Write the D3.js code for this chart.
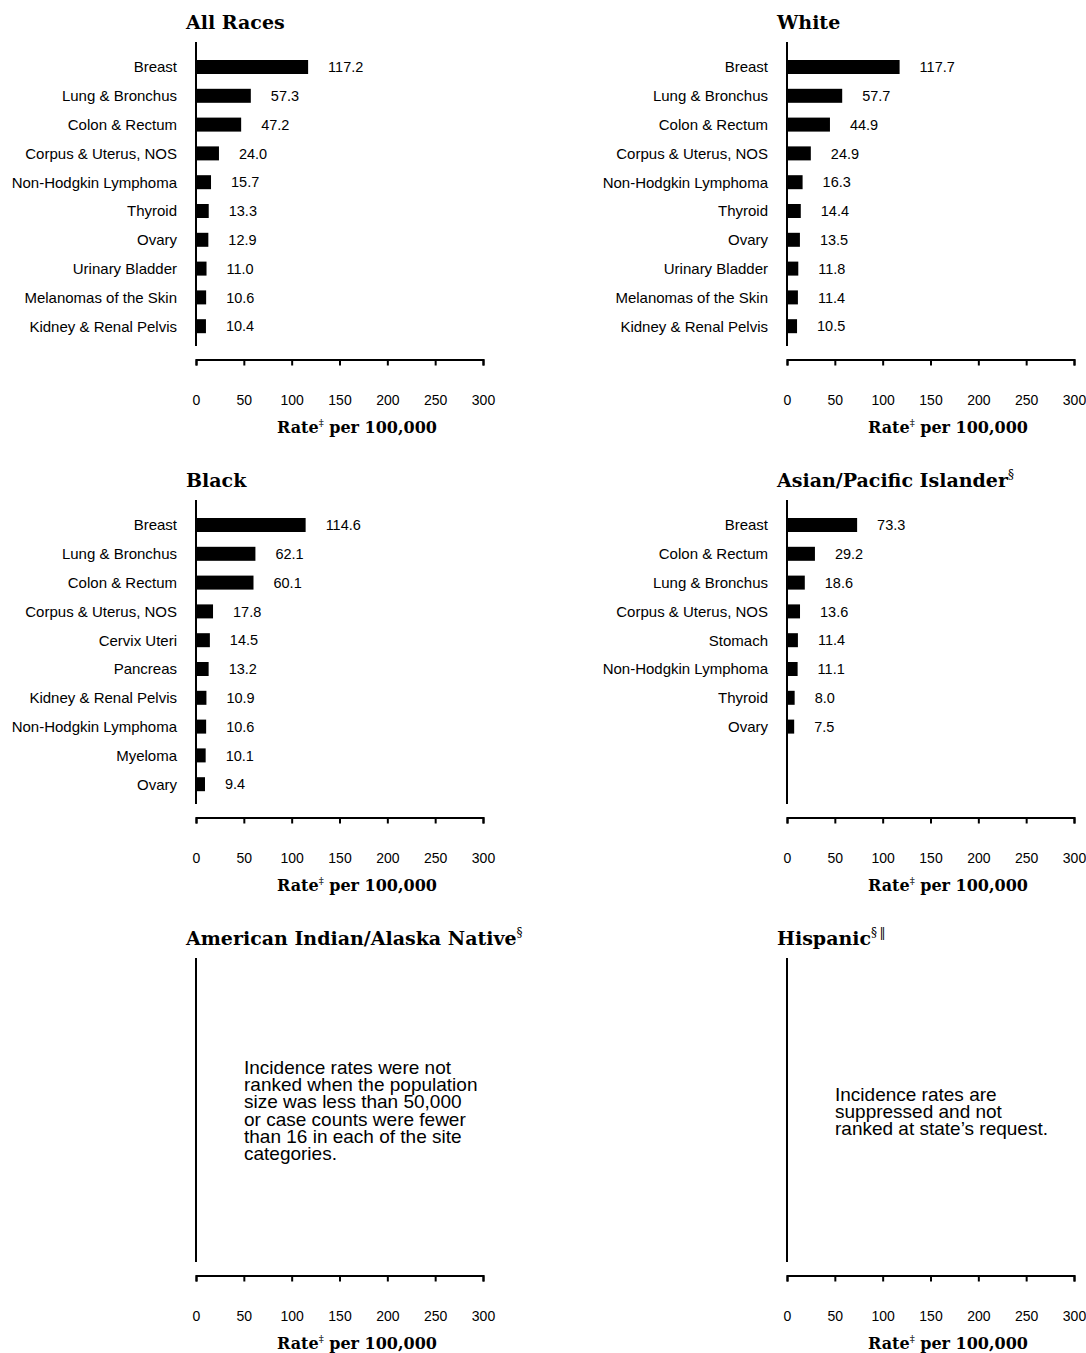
<!DOCTYPE html>
<html><head><meta charset="utf-8">
<script src="https://cdn.jsdelivr.net/npm/d3@7"></script>
<style>body{margin:0;background:#fff}</style>
</head><body><div id="chart"></div>
<script>
// ---- data ----
const allRacesSites = ["Breast","Lung & Bronchus","Colon & Rectum","Corpus & Uterus, NOS","Non-Hodgkin Lymphoma","Thyroid","Ovary","Urinary Bladder","Melanomas of the Skin","Kidney & Renal Pelvis"];
const allRacesRates = [117.2,57.3,47.2,24.0,15.7,13.3,12.9,11.0,10.6,10.4];
const whiteSites = ["Breast","Lung & Bronchus","Colon & Rectum","Corpus & Uterus, NOS","Non-Hodgkin Lymphoma","Thyroid","Ovary","Urinary Bladder","Melanomas of the Skin","Kidney & Renal Pelvis"];
const whiteRates = [117.7,57.7,44.9,24.9,16.3,14.4,13.5,11.8,11.4,10.5];
const blackSites = ["Breast","Lung & Bronchus","Colon & Rectum","Corpus & Uterus, NOS","Cervix Uteri","Pancreas","Kidney & Renal Pelvis","Non-Hodgkin Lymphoma","Myeloma","Ovary"];
const blackRates = [114.6,62.1,60.1,17.8,14.5,13.2,10.9,10.6,10.1,9.4];
const apiSites = ["Breast","Colon & Rectum","Lung & Bronchus","Corpus & Uterus, NOS","Stomach","Non-Hodgkin Lymphoma","Thyroid","Ovary"];
const apiRates = [73.3,29.2,18.6,13.6,11.4,11.1,8.0,7.5];
const aianNote = ["Incidence rates were not","ranked when the population","size was less than 50,000","or case counts were fewer","than 16 in each of the site","categories."];
const hispNote = ["Incidence rates are","suppressed and not","ranked at state\u2019s request."];
const xTicks = [0,50,100,150,200,250,300];
const axisTitle = "Rate";
const axisTitleRest = " per 100,000";

const panels = [
  {title:"All Races", sup:"", sites:allRacesSites, rates:allRacesRates, col:0, row:0},
  {title:"White", sup:"", sites:whiteSites, rates:whiteRates, col:1, row:0},
  {title:"Black", sup:"", sites:blackSites, rates:blackRates, col:0, row:1},
  {title:"Asian/Pacific Islander", sup:"\u00a7", sites:apiSites, rates:apiRates, col:1, row:1},
  {title:"American Indian/Alaska Native", sup:"\u00a7", note:aianNote, noteY:158, col:0, row:2},
  {title:"Hispanic", sup:"\u00a7\u2009\u2016", note:hispNote, noteY:185, col:1, row:2}
];

const svg = d3.select("#chart").append("svg").attr("width",1086).attr("height",1353);
const colX = [196, 787];
const rowY = [0, 458, 916];
const serif = "'DejaVu Serif', serif";
const sans = "'Liberation Sans', Arial, sans-serif";

panels.forEach(p => {
  const ax = colX[p.col];
  const g = svg.append("g").attr("transform", `translate(0,${rowY[p.row]})`);
  const x = d3.scaleLinear().domain([0,300]).range([ax, ax+287]);

  // title
  const t = g.append("text").attr("x", ax-10).attr("y", 29)
    .attr("font-family", serif).attr("font-weight","bold").attr("font-size", 19).attr("fill","#000")
    .text(p.title);
  if (p.sup) t.append("tspan").attr("font-size", 12).attr("font-weight","normal").attr("dy",-8).text(p.sup);

  // vertical axis line
  g.append("line").attr("x1", ax).attr("x2", ax).attr("y1", 42).attr("y2", 346)
    .attr("stroke","#000").attr("stroke-width",2);

  if (p.sites) {
    const y = d3.scaleBand().domain(d3.range(10)).range([52.6, 340.6]).paddingInner(0);
    const data = p.sites.map((s,i)=>({s, v:p.rates[i], i}));
    const bh = 14;
    g.selectAll("rect.bar").data(data).join("rect").attr("class","bar")
      .attr("x", x(0)).attr("width", d => x(d.v)-x(0))
      .attr("y", d => y(d.i) + y.bandwidth()/2 - bh/2).attr("height", bh).attr("fill","#000");
    g.selectAll("text.cat").data(data).join("text").attr("class","cat")
      .attr("x", ax-19).attr("y", d => y(d.i)+y.bandwidth()/2).attr("dy","0.36em")
      .attr("text-anchor","end").attr("font-family", sans).attr("font-size",15).text(d=>d.s);
    g.selectAll("text.val").data(data).join("text").attr("class","val")
      .attr("x", d => x(d.v)+20).attr("y", d => y(d.i)+y.bandwidth()/2).attr("dy","0.36em")
      .attr("font-family", sans).attr("font-size",14.5).text(d=>d.v.toFixed(1));
  } else {
    const nt = g.append("text").attr("x", ax+48).attr("y", p.noteY)
      .attr("font-family", sans).attr("font-size",19).attr("fill","#000");
    p.note.forEach((l,i)=> nt.append("tspan").attr("x", ax+48).attr("dy", i===0?0:17.2).text(l));
  }

  // x axis
  const xa = g.append("g").attr("transform","translate(0,359.5)")
    .call(d3.axisBottom(x).tickValues(xTicks).tickSize(6).tickSizeOuter(6).tickPadding(29.5));
  xa.selectAll("path,line").attr("stroke","#000").attr("stroke-width",2);
  xa.selectAll("text").attr("font-family", sans).attr("font-size",14).attr("fill","#000");

  const at = g.append("text").attr("x", ax+161).attr("y", 433).attr("text-anchor","middle")
    .attr("font-family", serif).attr("font-weight","bold").attr("font-size",16);
  at.append("tspan").text(axisTitle);
  at.append("tspan").attr("font-size",10).attr("font-weight","normal").attr("dy",-7).text("\u2021");
  at.append("tspan").attr("dy",7).text(axisTitleRest);
});
</script></body></html>
